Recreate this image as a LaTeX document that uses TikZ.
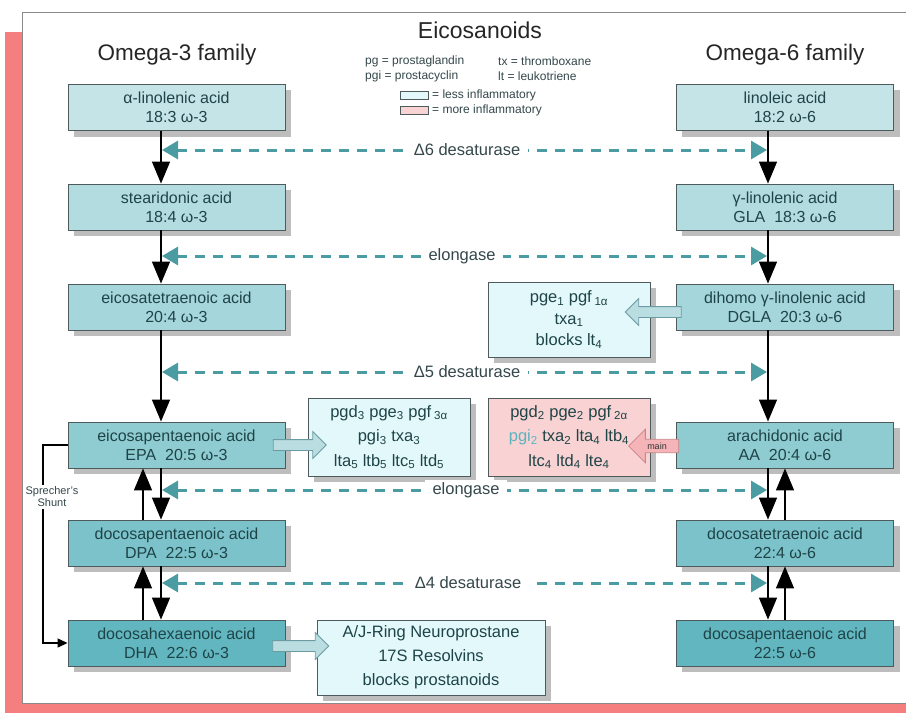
\documentclass[tikz,border=0pt]{standalone}
\usepackage{fontspec}
\setmainfont{Liberation Sans}
\usetikzlibrary{arrows.meta,shapes.arrows,calc}
\definecolor{salmon}{HTML}{F57F7F}
\definecolor{frameC}{HTML}{8A8A8A}
\definecolor{txt}{HTML}{1F4448}
\definecolor{boxB}{HTML}{4F5A5C}
\definecolor{rowA}{HTML}{C5E4E7}
\definecolor{rowB}{HTML}{B3DCE0}
\definecolor{rowC}{HTML}{A5D6DB}
\definecolor{rowD}{HTML}{8ECCD2}
\definecolor{rowE}{HTML}{7BC2CA}
\definecolor{rowF}{HTML}{62B6BF}
\definecolor{lessC}{HTML}{E2F8FA}
\definecolor{moreC}{HTML}{F9D3D3}
\definecolor{dashC}{HTML}{4A9CA2}
\definecolor{labC}{HTML}{34474A}
\definecolor{arrF}{HTML}{B9DDE1}
\definecolor{arrB}{HTML}{6C9CA2}
\definecolor{mainF}{HTML}{F5B5B8}
\definecolor{mainB}{HTML}{C98589}
\definecolor{pgiC}{HTML}{5DB3BE}
\definecolor{shadowC}{HTML}{BDBDBD}
\pgfdeclarelayer{bg}
\pgfdeclarelayer{shade}
\pgfsetlayers{bg,shade,main}
\begin{document}
\begin{tikzpicture}[x=1pt,y=-1pt,
  acid/.style={draw=boxB, line width=0.9pt, minimum width=217pt, minimum height=46pt,
    align=center, text=txt, inner sep=0pt, font=\fontsize{16}{19}\selectfont},
  prod/.style={draw=boxB, line width=0.9pt, align=center, text=txt, inner sep=0pt},
  vert/.style={line width=1.5pt, black, -{Triangle[length=22pt,width=18pt]}},
  enz/.style={draw=dashC, line width=3pt, dash pattern=on 10pt off 8pt,
    {Triangle[length=16pt,width=18pt]}-{Triangle[length=16pt,width=18pt]}},
  enzlabel/.style={fill=white, inner xsep=8pt, inner ysep=2pt, text=labC,
    font=\fontsize{16.5}{19}\selectfont},
  openarr/.style={single arrow, draw=arrB, fill=arrF, line width=0.8pt,
    inner xsep=0pt, inner ysep=5pt, single arrow head extend=8pt},
  legtxt/.style={anchor=west, inner sep=0pt, text=labC, font=\fontsize{12}{13}\selectfont}
]
\useasboundingbox (0,0) rectangle (906,713);
% frame
\begin{pgfonlayer}{bg}
\fill[salmon] (5,32) rectangle (22,713);
\fill[salmon] (5,703) rectangle (906,713);
\draw[frameC, fill=white, line width=1pt] (22,12) rectangle (912,703);
\end{pgfonlayer}

% titles
\node[font=\fontsize{23}{25}\selectfont, text=black!85] (title) at (480,30) {Eicosanoids};
\node[font=\fontsize{22.5}{25}\selectfont, text=black!85] (om3) at (177,55) {Omega-3 family};
\node[font=\fontsize{22.5}{25}\selectfont, text=black!85] (om6) at (785,55) {Omega-6 family};

% legend
\node[legtxt] (lg1) at (365,61) {pg = prostaglandin};
\node[legtxt] (lg2) at (498,61) {tx = thromboxane};
\node[legtxt] (lg3) at (365,76) {pgi = prostacyclin};
\node[legtxt] (lg4) at (498,76) {lt = leukotriene};
\node[draw=boxB, fill=lessC, line width=0.6pt, minimum width=28pt, minimum height=8pt, inner sep=0pt] (lgb1) at (414,95) {};
\node[draw=boxB, fill=moreC, line width=0.6pt, minimum width=28pt, minimum height=8pt, inner sep=0pt] (lgb2) at (414,110) {};
\node[legtxt] (lg5) at (432,95) {= less inflammatory};
\node[legtxt] (lg6) at (432,110) {= more inflammatory};

% omega-3 column
\node[acid, fill=rowA] (a1) at (176.5,107.5) {α-linolenic acid\\18:3 ω-3};
\node[acid, fill=rowB] (a2) at (176.5,207) {stearidonic acid\\18:4 ω-3};
\node[acid, fill=rowC] (a3) at (176.5,307) {eicosatetraenoic acid\\20:4 ω-3};
\node[acid, fill=rowD] (a4) at (176.5,445) {eicosapentaenoic acid\\EPA\ \ 20:5 ω-3};
\node[acid, fill=rowE] (a5) at (176.5,543) {docosapentaenoic acid\\DPA\ \ 22:5 ω-3};
\node[acid, fill=rowF] (a6) at (176.5,643) {docosahexaenoic acid\\DHA\ \ 22:6 ω-3};

% omega-6 column
\node[acid, fill=rowA] (b1) at (785,107.5) {linoleic acid\\18:2 ω-6};
\node[acid, fill=rowB] (b2) at (785,207) {γ-linolenic acid\\GLA\ \ 18:3 ω-6};
\node[acid, fill=rowC] (b3) at (785,307) {dihomo γ-linolenic acid\\DGLA\ \ 20:3 ω-6};
\node[acid, fill=rowD] (b4) at (785,445) {arachidonic acid\\AA\ \ 20:4 ω-6};
\node[acid, fill=rowE] (b5) at (785,543) {docosatetraenoic acid\\22:4 ω-6};
\node[acid, fill=rowF] (b6) at (785,643) {docosapentaenoic acid\\22:5 ω-6};

% product boxes
\node[prod, fill=lessC, minimum width=162pt, minimum height=75pt, font=\fontsize{16.5}{21.5}\selectfont] (p1) at (569,319.5)
  {pge\textsubscript{1} pgf\,\textsubscript{1α}\\txa\textsubscript{1}\\blocks lt\textsubscript{4}};
\node[prod, fill=lessC, minimum width=162pt, minimum height=78pt, font=\fontsize{16.5}{24.5}\selectfont] (p3) at (389,437)
  {pgd\textsubscript{3} pge\textsubscript{3} pgf\,\textsubscript{3α}\\pgi\textsubscript{3} txa\textsubscript{3}\\lta\textsubscript{5} ltb\textsubscript{5} ltc\textsubscript{5} ltd\textsubscript{5}};
\node[prod, fill=moreC, minimum width=162pt, minimum height=78pt, font=\fontsize{16.5}{24.5}\selectfont] (p2) at (569,437)
  {pgd\textsubscript{2} pge\textsubscript{2} pgf\,\textsubscript{2α}\\{\color{pgiC}pgi\textsubscript{2}} txa\textsubscript{2} lta\textsubscript{4} ltb\textsubscript{4}\\ltc\textsubscript{4} ltd\textsubscript{4} lte\textsubscript{4}};
\node[prod, fill=lessC, minimum width=228pt, minimum height=75pt, font=\fontsize{16.5}{24}\selectfont] (p4) at (431,657.5)
  {A/J-Ring Neuroprostane\\17S Resolvins\\blocks prostanoids};

% shadows
\begin{pgfonlayer}{shade}
\foreach \n in {a1,a2,a3,a4,a5,a6,b1,b2,b3,b4,b5,b6,p1,p2,p3,p4}
  \fill[shadowC] ($(\n.south west)+(6,6)$) rectangle ($(\n.north east)+(6,6)$);
\end{pgfonlayer}

% column x positions
\coordinate (Ld) at (161,0);
\coordinate (Lu) at (143,0);
\coordinate (Rd) at (768,0);
\coordinate (Ru) at (785,0);
\coordinate (Le) at (162,0);
\coordinate (Re) at (767,0);

% vertical arrows
\draw[vert] (a1.south -| Ld) -- (a2.north -| Ld);
\draw[vert] (a2.south -| Ld) -- (a3.north -| Ld);
\draw[vert] (a3.south -| Ld) -- (a4.north -| Ld);
\draw[vert] (a4.south -| Ld) -- (a5.north -| Ld);
\draw[vert] (a5.north -| Lu) -- (a4.south -| Lu);
\draw[vert] (a5.south -| Ld) -- (a6.north -| Ld);
\draw[vert] (a6.north -| Lu) -- (a5.south -| Lu);
\draw[vert] (b1.south -| Rd) -- (b2.north -| Rd);
\draw[vert] (b2.south -| Rd) -- (b3.north -| Rd);
\draw[vert] (b3.south -| Rd) -- (b4.north -| Rd);
\draw[vert] (b4.south -| Rd) -- (b5.north -| Rd);
\draw[vert] (b5.north -| Ru) -- (b4.south -| Ru);
\draw[vert] (b5.south -| Rd) -- (b6.north -| Rd);
\draw[vert] (b6.north -| Ru) -- (b5.south -| Ru);

% enzyme dashed arrows
\coordinate (e1) at (467,150);
\coordinate (e2) at (462,256);
\coordinate (e3) at (467,372);
\coordinate (e4) at (466,490);
\coordinate (e5) at (468,583);
\draw[enz] (e1 -| Le) -- (e1 -| Re);
\draw[enz] (e2 -| Le) -- (e2 -| Re);
\draw[enz] (e3 -| Le) -- (e3 -| Re);
\draw[enz] (e4 -| Le) -- (e4 -| Re);
\draw[enz] (e5 -| Le) -- (e5 -| Re);
\node[enzlabel] (l1) at (e1) {Δ6 desaturase};
\node[enzlabel] (l2) at (e2) {elongase};
\node[enzlabel] (l3) at (e3) {Δ5 desaturase};
\node[enzlabel] (l4) at (e4) {elongase};
\node[enzlabel] (l5) at (e5) {Δ4 desaturase};

% open arrows to product boxes
\node[openarr, minimum height=53pt] (o1) at (297,445) {};
\node[openarr, minimum height=56pt] (o2) at (298,646) {};
\node[openarr, minimum height=56pt, shape border rotate=180] (o3) at (656,312) {};
\node[single arrow, draw=mainB, fill=mainF, line width=0.8pt, shape border rotate=180,
  inner xsep=3pt, inner ysep=3pt, single arrow head extend=10pt, minimum height=50pt,
  font=\fontsize{9}{10}\selectfont, text=black!80] (m1) at (657,446) {main};

% Sprecher's shunt
\coordinate (sh) at (43,0);
\draw[line width=1.2pt, -{Triangle[length=10pt,width=9pt]}] (a4.west) -- (a4.west -| sh) |- (a6.west);
\node[fill=white, inner sep=1.5pt, align=center, text=labC, font=\fontsize{11}{12}\selectfont] (shl) at (52,497) {Sprecher's\\Shunt};
\end{tikzpicture}
\end{document}
